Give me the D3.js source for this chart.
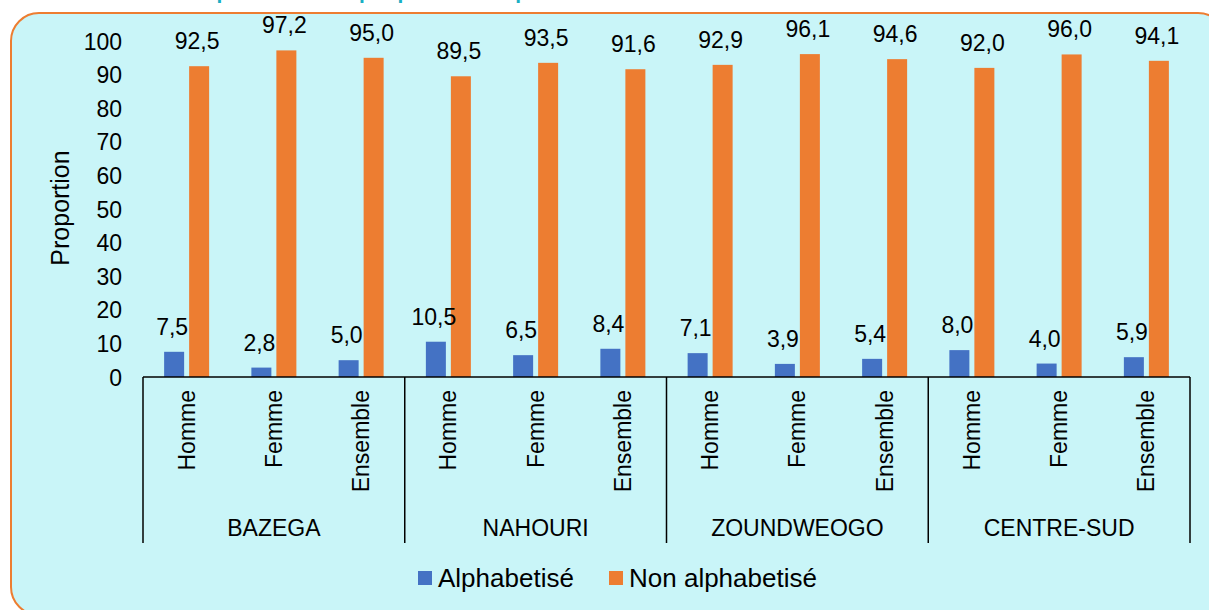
<!DOCTYPE html>
<html>
<head>
<meta charset="utf-8">
<script src="https://cdn.jsdelivr.net/npm/d3@7"></script>
<style>
  body { margin: 0; background: #ffffff; }
  svg { display: block; font-family: "Liberation Sans", Arial, sans-serif; }
</style>
</head>
<body>
<div id="chart-area"></div>
<script>
var provinces = ["BAZEGA", "NAHOURI", "ZOUNDWEOGO", "CENTRE-SUD"];
var sexes = ["Homme", "Femme", "Ensemble"];
var seriesNames = ["Alphabetisé", "Non alphabetisé"];
var alphabetise = [7.5, 2.8, 5.0, 10.5, 6.5, 8.4, 7.1, 3.9, 5.4, 8.0, 4.0, 5.9];
var nonAlphabetise = [92.5, 97.2, 95.0, 89.5, 93.5, 91.6, 92.9, 96.1, 94.6, 92.0, 96.0, 94.1];
var yTicks = [0, 10, 20, 30, 40, 50, 60, 70, 80, 90, 100];

var W = 1209, H = 610;
var color = d3.scaleOrdinal().domain(seriesNames).range(["#4472C4", "#ED7D31"]);

// flatten into rows
var data = [];
provinces.forEach(function (p, i) {
  sexes.forEach(function (s, j) {
    var k = i * 3 + j;
    data.push({ province: p, sexe: s, serie: seriesNames[0], value: alphabetise[k] });
    data.push({ province: p, sexe: s, serie: seriesNames[1], value: nonAlphabetise[k] });
  });
});

var svg = d3.select("#chart-area").append("svg")
  .attr("width", W).attr("height", H);

// panel background
svg.append("rect")
  .attr("x", 11).attr("y", 13)
  .attr("width", 1215).attr("height", 602)
  .attr("rx", 28).attr("ry", 28)
  .attr("fill", "#C9F5F8")
  .attr("stroke", "#ED7D31")
  .attr("stroke-width", 2);

// title (cropped at the top in the original)
svg.append("text")
  .attr("x", 128).attr("y", -1)
  .attr("fill", "#1AAFC4")
  .attr("font-weight", "bold")
  .attr("font-size", "21px")
  .text("Taux d'alphabétisation par province et par sexe");

var x0 = 143, x1 = 1190, yBase = 377, yTop = 41;

var xGroup = d3.scaleBand().domain(provinces).range([x0, x1]);
var xCat = d3.scaleBand().domain(sexes).range([0, xGroup.bandwidth()]);
var pairW = 45;
var xSerie = d3.scaleBand().domain(seriesNames).range([0, pairW]).paddingInner(0.2);
var y = d3.scaleLinear().domain([0, 100]).range([yBase, yTop]);

function barX(d) {
  return xGroup(d.province) + xCat(d.sexe) + (xCat.bandwidth() - pairW) / 2 + xSerie(d.serie);
}

// y axis (labels only)
var yAxis = d3.axisLeft(y).tickValues(yTicks).tickSize(0).tickPadding(0);
var gy = svg.append("g")
  .attr("transform", "translate(122,0)")
  .call(yAxis);
gy.select(".domain").remove();
gy.selectAll("text")
  .attr("font-size", "23px")
  .attr("font-family", "Liberation Sans, Arial, sans-serif")
  .attr("fill", "#000")
  .attr("dy", "0.35em");

svg.append("text")
  .attr("transform", "translate(69,208) rotate(-90)")
  .attr("text-anchor", "middle")
  .attr("font-size", "25px")
  .text("Proportion");

// bars
svg.selectAll("rect.bar")
  .data(data)
  .enter()
  .append("rect")
  .attr("class", "bar")
  .attr("x", barX)
  .attr("width", xSerie.bandwidth())
  .attr("y", function (d) { return y(d.value); })
  .attr("height", function (d) { return y(0) - y(d.value); })
  .attr("fill", function (d) { return color(d.serie); });

// value labels
svg.selectAll("text.val")
  .data(data)
  .enter()
  .append("text")
  .attr("class", "val")
  .attr("x", function (d) { return barX(d) + xSerie.bandwidth() / 2 - 2; })
  .attr("y", function (d) { return y(d.value) - 17; })
  .attr("text-anchor", "middle")
  .attr("font-size", "23px")
  .text(function (d) { return d3.format(".1f")(d.value).replace(".", ","); });

// category axis lines
var gx = svg.append("g").attr("stroke", "#000").attr("stroke-width", 1.5);
gx.append("line")
  .attr("x1", x0).attr("x2", x1)
  .attr("y1", yBase).attr("y2", yBase);
var seps = provinces.map(function (p) { return xGroup(p); }).concat([x1]);
gx.selectAll("line.sep")
  .data(seps)
  .enter()
  .append("line")
  .attr("class", "sep")
  .attr("x1", function (d) { return d; })
  .attr("x2", function (d) { return d; })
  .attr("y1", yBase).attr("y2", 543);

// sexe labels
var catRows = [];
provinces.forEach(function (p) {
  sexes.forEach(function (s) { catRows.push({ province: p, sexe: s }); });
});
svg.selectAll("text.cat")
  .data(catRows)
  .enter()
  .append("text")
  .attr("class", "cat")
  .attr("transform", function (d) {
    var cx = xGroup(d.province) + xCat(d.sexe) + xCat.bandwidth() / 2 + 8;
    return "translate(" + cx + ",390) rotate(-90)";
  })
  .attr("text-anchor", "end")
  .attr("font-size", "23px")
  .text(function (d) { return d.sexe; });

// province labels
svg.selectAll("text.prov")
  .data(provinces)
  .enter()
  .append("text")
  .attr("class", "prov")
  .attr("x", function (d) { return xGroup(d) + xGroup.bandwidth() / 2; })
  .attr("y", 536)
  .attr("text-anchor", "middle")
  .attr("font-size", "23px")
  .text(function (d) { return d; });

// legend
var legendX = [418, 609];
var lg = svg.selectAll("g.legend")
  .data(seriesNames)
  .enter()
  .append("g")
  .attr("class", "legend")
  .attr("transform", function (d, i) { return "translate(" + legendX[i] + ",571)"; });
lg.append("rect")
  .attr("width", 14).attr("height", 14)
  .attr("fill", function (d) { return color(d); });
lg.append("text")
  .attr("x", 20).attr("y", 16)
  .attr("font-size", "26px")
  .text(function (d) { return d; });
</script>
</body>
</html>
